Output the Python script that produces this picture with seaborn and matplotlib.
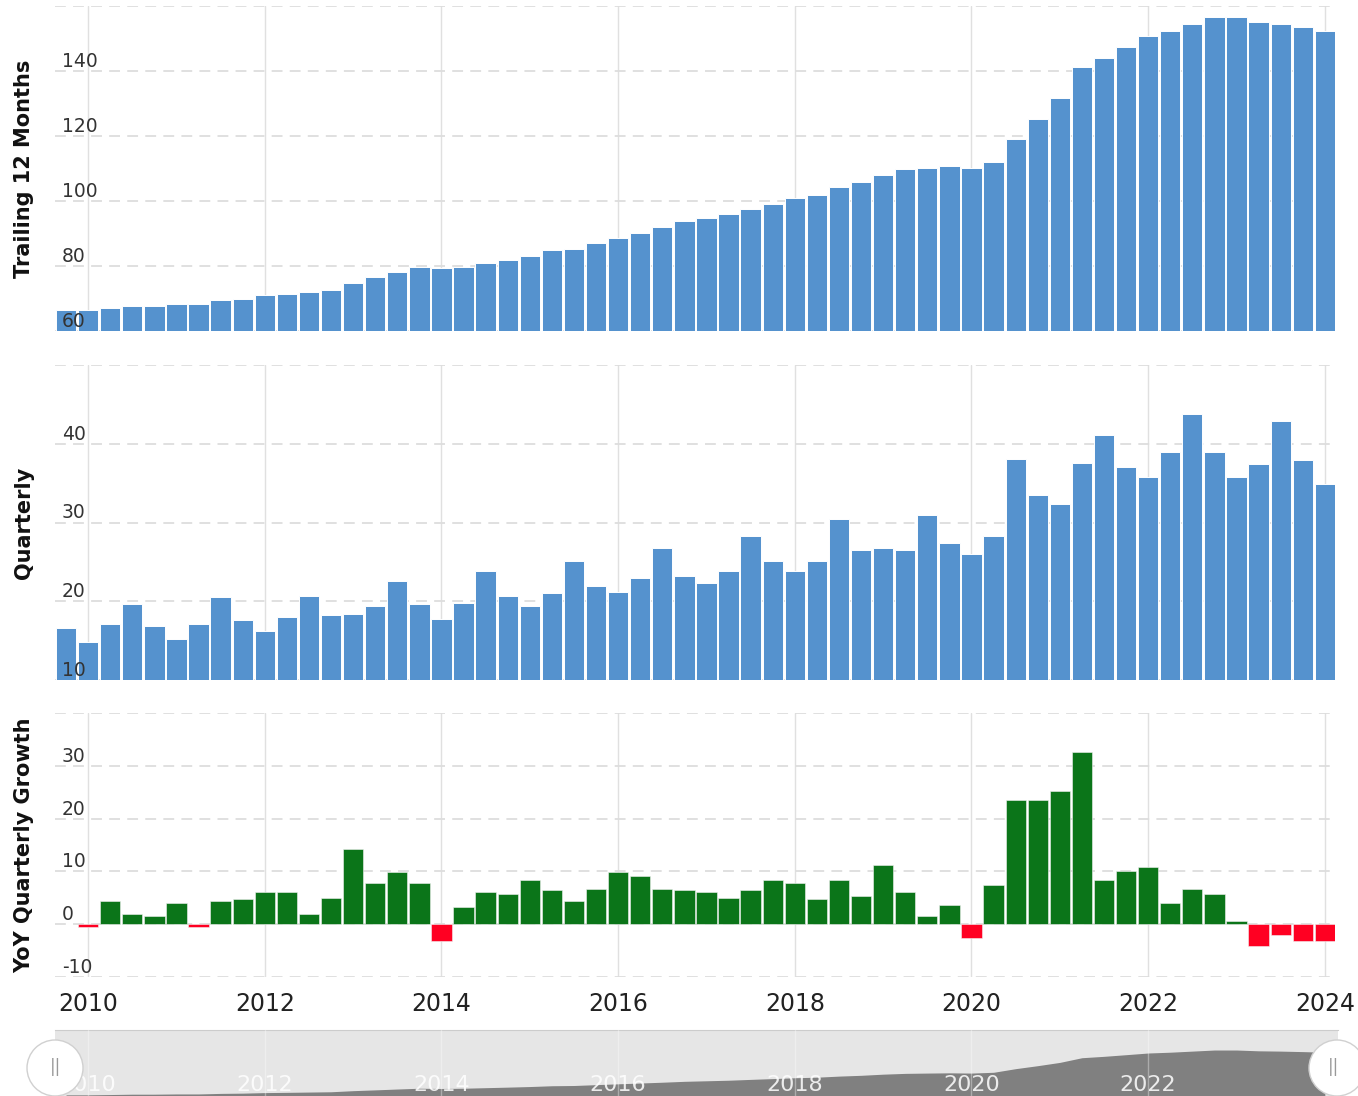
import pandas as pd
import matplotlib
matplotlib.use("Agg")
import matplotlib.pyplot as plt
import matplotlib.transforms as mtransforms
from matplotlib.patches import Ellipse
import seaborn as sns

# quarter end dates (category axis)
quarter_ends = pd.date_range("2009-09-30", "2023-12-31", freq="QE")

# trailing 12 months
ttm = [66.5, 66.5, 67.1, 67.8, 67.8, 68.3, 68.3, 69.4, 69.9, 71.0,
       71.5, 72.1, 72.7, 74.9, 76.5, 78.2, 79.8, 79.3, 79.8, 80.9,
       82.0, 83.2, 84.8, 85.3, 87.0, 88.7, 90.3, 91.9, 93.7, 94.8,
       95.9, 97.6, 99.2, 100.9, 102.0, 104.2, 105.8, 108.1, 109.7, 110.3,
       110.8, 110.3, 111.9, 119.2, 125.2, 131.8, 141.2, 144.0, 147.3, 150.7,
       152.3, 154.5, 156.7, 156.7, 155.1, 154.5, 153.5, 152.3]

# quarterly
quarterly = [16.6, 14.8, 17.1, 19.6, 16.8, 15.2, 17.1, 20.5, 17.6, 16.2,
             18.0, 20.7, 18.2, 18.4, 19.4, 22.6, 19.6, 17.8, 19.8, 23.9,
             20.7, 19.4, 21.0, 25.1, 21.9, 21.2, 23.0, 26.7, 23.2, 22.3,
             23.9, 28.3, 25.1, 23.9, 25.1, 30.5, 26.5, 26.7, 26.5, 31.0,
             27.4, 26.0, 28.3, 38.1, 33.5, 32.4, 37.6, 41.1, 37.0, 35.8,
             39.0, 43.8, 39.0, 35.8, 37.4, 42.9, 37.9, 34.9]

# yoy quarterly growth (%), first quarter has no value
yoy = [None, -0.5, 4.4, 1.9, 1.6, 4.0, -0.5, 4.4, 4.7, 6.1,
       6.1, 1.9, 5.0, 14.2, 7.8, 9.8, 7.8, -3.1, 3.3, 6.1,
       5.7, 8.4, 6.4, 4.4, 6.7, 9.8, 9.1, 6.7, 6.4, 6.1,
       5.0, 6.4, 8.4, 7.8, 4.7, 8.4, 5.3, 11.2, 6.1, 1.6,
       3.6, -2.7, 7.4, 23.5, 23.5, 25.2, 32.7, 8.4, 10.1, 10.8,
       4.0, 6.7, 5.7, 0.6, -4.1, -2.1, -3.1, -3.1]

year_ticks = [2010, 2012, 2014, 2016, 2018, 2020, 2022, 2024]
nav_years = [2010, 2012, 2014, 2016, 2018, 2020, 2022]

BLUE = "#5592ce"
GREEN = "#0b7519"
RED = "#ff0022"

df = pd.DataFrame({"date": quarter_ends, "ttm": ttm, "quarterly": quarterly, "yoy": yoy})
df["x"] = df["date"].dt.year + df["date"].dt.month / 12.0
df["sign"] = ["up" if (v is not None and v >= 0) else "down" for v in yoy]
df_yoy = df.dropna(subset=["yoy"])

sns.set_style("white")
plt.rcParams["font.family"] = ["DejaVu Sans"]

W, H = 1358, 1096
fig = plt.figure(figsize=(W / 100, H / 100), dpi=100)


def px_axes(left, top, right, bottom):
    return fig.add_axes([left / W, 1 - bottom / H, (right - left) / W, (bottom - top) / H])


x0, x1 = 2009.625, 2024.115
px_per_year = (1335 - 55) / (x1 - x0)


def style(ax, ylim, ticks, label, show_x=False):
    ax.set_xlim(x0, x1)
    ax.set_ylim(*ylim)
    ax.set_yticks(ticks)
    ax.set_yticklabels([])
    ax.set_xticks(year_ticks)
    ax.set_xticklabels([str(y) for y in year_ticks])
    ax.grid(axis="y", color="#dddddd", linestyle=(0, (6, 4)), linewidth=1.3)
    ax.grid(axis="x", color="#e0e0e0", linestyle="-", linewidth=1)
    ax.set_axisbelow(True)
    for s in ax.spines.values():
        s.set_visible(False)
    ax.tick_params(axis="y", length=0)
    # y labels sit inside the plot, just above their gridline, on top of the bars
    tr = mtransforms.blended_transform_factory(ax.transAxes, ax.transData)
    for t in ticks[:-1]:
        ax.text(7 / 1280, t, str(t), transform=tr, ha="left", va="bottom",
                fontsize=13.5, color="#333333", zorder=5)
    ax.tick_params(axis="x", length=0, labelbottom=show_x, labelsize=17, pad=11,
                   labelcolor="#222222")
    ax.set_xlabel("")
    ax.set_ylabel(label, fontsize=15, fontweight="bold", color="#111111", va="center")
    ax.yaxis.set_label_coords(-31 / 1280, 0.5)


# top: trailing 12 months
ax1 = px_axes(55, 6, 1335, 331)
sns.barplot(data=df, x="x", y="ttm", native_scale=True, color=BLUE, width=0.92,
            errorbar=None, edgecolor="white", linewidth=0.7, saturation=1, ax=ax1)
style(ax1, (60, 160), [60, 80, 100, 120, 140, 160], "Trailing 12 Months")

# middle: quarterly
ax2 = px_axes(55, 365, 1335, 680)
sns.barplot(data=df, x="x", y="quarterly", native_scale=True, color=BLUE, width=0.92,
            errorbar=None, edgecolor="white", linewidth=0.7, saturation=1, ax=ax2)
style(ax2, (10, 50), [10, 20, 30, 40, 50], "Quarterly")

# bottom: yoy growth
ax3 = px_axes(55, 713, 1335, 977)
sns.barplot(data=df_yoy, x="x", y="yoy", hue="sign", palette={"up": GREEN, "down": RED},
            native_scale=True, dodge=False, width=0.92, errorbar=None, legend=False,
            edgecolor="#f2f2f2", linewidth=0.4, saturation=1, ax=ax3)
style(ax3, (-10, 40), [-10, 0, 10, 20, 30, 40], "YoY Quarterly Growth", show_x=True)

# navigator
nav = px_axes(55, 1030, 1338, 1110)
nav.set_facecolor("#e6e6e6")
nav.set_xlim(x0, x0 + (1338 - 55) / px_per_year)
nav.set_ylim(36, 197)
nav.fill_between(df["x"], df["ttm"], 36, color="#808080", linewidth=0, zorder=2)
nav.set_xticks(nav_years)
nav.grid(axis="x", color="white", alpha=0.35, linewidth=1)
nav.set_axisbelow(False)
nav.set_yticks([])
nav.tick_params(axis="x", length=0, labelbottom=False)
for name, s in nav.spines.items():
    s.set_visible(name == "top")
nav.spines["top"].set_color("#cccccc")
trans = mtransforms.blended_transform_factory(nav.transData, nav.transAxes)
for yr in nav_years:
    nav.text(yr, 0.31, str(yr), transform=trans, ha="center", va="center",
             fontsize=16, color="white", alpha=0.85, zorder=3)

# navigator handles
for cx, tx in [(55, 56), (1337, 1334)]:
    fig.add_artist(Ellipse((cx / W, 1 - 1068 / H), 56 / W, 56 / H, transform=fig.transFigure,
                           facecolor="white", edgecolor="#d0d0d0", linewidth=1, zorder=10))
    fig.text(tx / W, 1 - 1067 / H, "||", ha="center", va="center", fontsize=12,
             color="#999999", zorder=11)

fig.savefig("out.png", dpi=100, facecolor="white")
